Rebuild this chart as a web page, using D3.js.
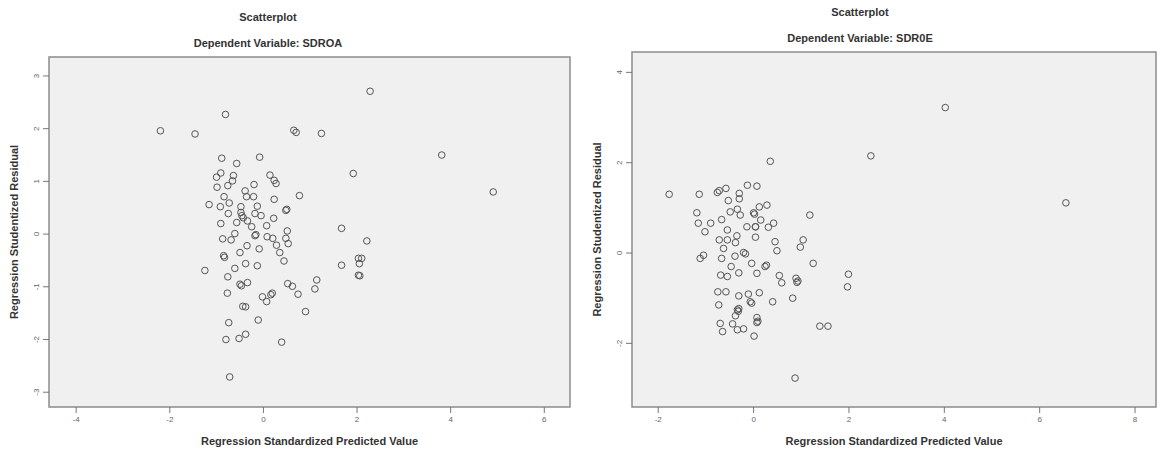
<!DOCTYPE html>
<html>
<head>
<meta charset="utf-8">
<script src="https://cdn.jsdelivr.net/npm/d3@7"></script>
<style>
  body { margin: 0; background: #fff; }
  svg text { font-family: "Liberation Sans", Arial, sans-serif; }
</style>
</head>
<body>
<svg id="chart" width="1161" height="452"></svg>
<script>
// left plot: SDROA
var roaPred = [-0.80,-2.19,-1.45,0.66,0.71,1.25,-0.88,-0.56,-0.07,1.93,-0.90,-0.99,-0.63,-0.98,-0.75,-0.65,0.15,0.24,0.28,
  -0.19,-0.38,-0.83,-0.35,-0.20,0.24,0.78,-1.15,-0.91,-0.72,-0.47,-0.12,0.51,-0.74,-0.45,-0.42,-0.17,-0.04,0.23,-0.90,-0.56,
  -0.33,0.08,1.68,0.52,-0.60,-0.24,-0.17,0.09,0.21,-0.86,-0.68,0.49,0.54,-0.34,-0.08,0.29,0.36,-0.49,-0.84,-0.82,0.45,1.68,
  -0.37,-0.12,2.04,-1.24,-0.60,2.04,-0.75,-0.49,-0.46,-0.33,-0.76,0.53,0.63,0.75,1.15,1.11,-0.01,0.08,0.20,0.17,-0.43,-0.37,
  0.91,-0.73,-0.10,-0.79,-0.51,-0.37,0.40,-0.71,2.29,3.82,4.92,2.22,2.11,2.06,2.07,-0.47,0.49,-0.15];
var roaResid = [2.26,1.95,1.89,1.96,1.92,1.90,1.43,1.33,1.45,1.14,1.15,1.07,1.10,0.88,0.91,1.00,1.11,1.01,0.95,
  0.93,0.81,0.70,0.70,0.70,0.65,0.72,0.55,0.51,0.58,0.51,0.52,0.46,0.38,0.34,0.30,0.38,0.34,0.29,0.19,0.21,
  0.24,0.15,0.10,0.05,0.00,0.13,-0.04,-0.06,-0.09,-0.10,-0.12,-0.09,-0.19,-0.23,-0.29,-0.22,-0.36,-0.36,-0.42,-0.45,-0.52,-0.60,
  -0.57,-0.61,-0.47,-0.70,-0.66,-0.79,-0.82,-0.96,-0.99,-0.93,-1.13,-0.95,-1.00,-1.15,-0.88,-1.05,-1.20,-1.29,-1.13,-1.16,-1.38,-1.39,
  -1.48,-1.69,-1.64,-2.01,-1.99,-1.91,-2.06,-2.72,2.70,1.49,0.79,-0.14,-0.47,-0.57,-0.80,0.40,0.44,-0.02];

// right plot: SDR0E
var roePred = [2.47,0.36,-1.76,-1.13,-0.71,-0.75,-0.57,-0.52,-0.29,-0.29,-0.12,0.08,-1.18,-1.15,-0.89,-1.01,-0.66,-0.48,-0.33,
  -0.27,0.01,0.05,0.13,0.29,0.16,0.05,-0.13,0.32,0.43,1.19,-0.54,-0.34,-0.71,-0.54,-0.37,0.05,0.46,1.05,0.99,-0.62,0.50,
  -1.04,-1.11,-0.66,-0.38,-0.20,-0.16,1.26,2.00,-0.03,0.25,0.28,-0.46,-0.68,-0.54,-0.30,0.08,0.55,0.90,1.98,0.60,0.92,
  -0.74,-0.57,-0.30,-0.10,-0.06,-0.03,0.13,0.41,0.83,-0.72,-0.33,-0.30,-0.37,0.08,0.08,0.10,-0.69,-0.43,-0.64,-0.33,-0.20,
  0.02,1.40,1.57,0.88,4.03,6.56,0.03,-0.31,0.94];
var roeResid = [2.14,2.02,1.29,1.29,1.37,1.33,1.42,1.15,1.31,1.19,1.49,1.47,0.88,0.65,0.65,0.46,0.73,0.90,0.96,
  0.83,0.88,0.57,1.01,1.05,0.72,0.57,0.57,0.56,0.65,0.83,0.50,0.37,0.28,0.28,0.22,0.34,0.24,0.28,0.12,0.09,0.04,
  -0.06,-0.13,-0.13,-0.08,0.00,-0.03,-0.24,-0.48,-0.24,-0.31,-0.28,-0.31,-0.50,-0.53,-0.45,-0.46,-0.51,-0.57,-0.76,-0.67,-0.66,
  -0.87,-0.87,-0.96,-0.92,-1.09,-1.12,-0.89,-1.09,-1.01,-1.16,-1.27,-1.24,-1.40,-1.44,-1.55,-1.52,-1.57,-1.58,-1.75,-1.71,-1.69,
  -1.85,-1.63,-1.63,-2.78,3.21,1.10,0.85,-1.30,-0.63];

var roaXTicks = [-4, -2, 0, 2, 4, 6];
var roaYTicks = [-3, -2, -1, 0, 1, 2, 3];
var roeXTicks = [-2, 0, 2, 4, 6, 8];
var roeYTicks = [-2, 0, 2, 4];

var plots = [
  {title: "Dependent Variable: SDROA", xs: roaPred, ys: roaResid, xTicks: roaXTicks, yTicks: roaYTicks,
   left: 49, right: 570, top: 57, bottom: 407, xDomain: [-4.57, 6.56], yDomain: [-3.29, 3.35], titleX: 268},
  {title: "Dependent Variable: SDR0E", xs: roePred, ys: roeResid, xTicks: roeXTicks, yTicks: roeYTicks,
   left: 632, right: 1156, top: 52, bottom: 407, xDomain: [-2.54, 8.45], yDomain: [-3.42, 4.44], titleX: 860}
];

//plain hyphen minus, no decimals
function tickText(d) { return String(d); }

var svg = d3.select("#chart");

plots.forEach(function(p) {
  var x = d3.scaleLinear().domain(p.xDomain).range([p.left, p.right]);
  var y = d3.scaleLinear().domain(p.yDomain).range([p.bottom, p.top]);
  var g = svg.append("g");

  //titles
  g.append("text").attr("x", p.titleX).attr("y", p.top - 36)
    .attr("text-anchor", "middle").attr("font-size", 11).attr("font-weight", "bold")
    .attr("fill", "#333").text("Scatterplot");
  g.append("text").attr("x", p.titleX).attr("y", p.top - 10)
    .attr("text-anchor", "middle").attr("font-size", 11).attr("font-weight", "bold")
    .attr("fill", "#333").text(p.title);

  //plot area
  g.append("rect").attr("x", p.left).attr("y", p.top)
    .attr("width", p.right - p.left).attr("height", p.bottom - p.top)
    .attr("fill", "#f0f0f0").attr("stroke", "#8c8c8c").attr("stroke-width", 1.5);

  //x axis
  var xAxis = d3.axisBottom(x).tickValues(p.xTicks).tickFormat(tickText).tickSize(6).tickPadding(3);
  var xg = g.append("g").attr("transform", "translate(0," + p.bottom + ")").call(xAxis);
  xg.select(".domain").remove();
  xg.selectAll("line").attr("stroke", "#777");
  xg.selectAll("text").attr("font-size", 8).attr("fill", "#666")
    .attr("font-family", "Liberation Sans, Arial, sans-serif");

  //y axis, labels rotated like SPSS
  var yAxis = d3.axisLeft(y).tickValues(p.yTicks).tickFormat(tickText).tickSize(6).tickPadding(3);
  var yg = g.append("g").attr("transform", "translate(" + p.left + ",0)").call(yAxis);
  yg.select(".domain").remove();
  yg.selectAll("line").attr("stroke", "#777");
  yg.selectAll("text").attr("font-size", 8).attr("fill", "#666")
    .attr("font-family", "Liberation Sans, Arial, sans-serif")
    .attr("text-anchor", "middle").attr("dy", 0)
    .attr("transform", "translate(-10,0) rotate(-90)").attr("x", 0).attr("y", 0);

  //axis titles
  g.append("text").attr("x", (p.left + p.right) / 2).attr("y", p.bottom + 38)
    .attr("text-anchor", "middle").attr("font-size", 11).attr("font-weight", "bold")
    .attr("fill", "#333").text("Regression Standardized Predicted Value");
  g.append("text")
    .attr("transform", "translate(" + (p.left - 31) + "," + ((p.top + p.bottom) / 2) + ") rotate(-90)")
    .attr("text-anchor", "middle").attr("font-size", 11).attr("font-weight", "bold")
    .attr("fill", "#333").text("Regression Studentized Residual");

  //points
  g.append("g").selectAll("circle")
    .data(p.xs.map(function(v, i) { return [v, p.ys[i]]; }))
    .enter().append("circle")
    .attr("cx", function(d) { return x(d[0]); })
    .attr("cy", function(d) { return y(d[1]); })
    .attr("r", 3.3)
    .attr("fill", "none")
    .attr("stroke", "#555")
    .attr("stroke-width", 1);
});
</script>
</body>
</html>
